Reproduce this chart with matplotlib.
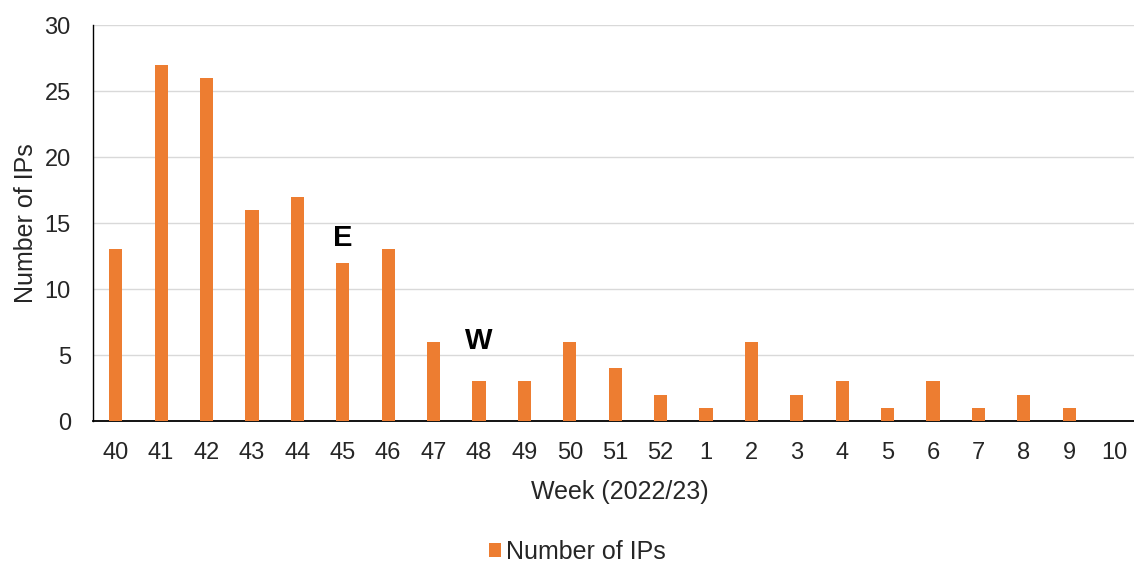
import matplotlib
matplotlib.use("Agg")
import matplotlib.pyplot as plt
import numpy as np

plt.rcParams['font.family'] = ['Liberation Sans', 'DejaVu Sans']

weeks = ["40", "41", "42", "43", "44", "45", "46", "47", "48", "49", "50", "51", "52",
         "1", "2", "3", "4", "5", "6", "7", "8", "9", "10"]
num_ips = [13, 27, 26, 16, 17, 12, 13, 6, 3, 3, 6, 4, 2, 1, 6, 2, 3, 1, 3, 1, 2, 1, 0]

# letter markers placed above particular weeks
markers = [("E", "45", 13.9), ("W", "48", 6.05)]

bar_color = "#ED7D31"
text_color = "#262626"

fig = plt.figure(figsize=(11.34, 5.64), dpi=100)
ax = fig.add_axes([0.082, 0.2535, 0.921, 0.702])

x = np.arange(len(weeks))
ax.bar(x, num_ips, width=0.29, color=bar_color, label="Number of IPs", zorder=3)

ax.set_xlim(-0.5, len(weeks) - 0.5)
ax.set_ylim(0, 30)
ax.set_yticks(range(0, 31, 5))
ax.set_xticks(x)
ax.set_xticklabels(weeks)
ax.tick_params(axis="both", length=0, labelsize=17, colors=text_color)
ax.tick_params(axis="x", pad=15)
ax.tick_params(axis="y", pad=16)

ax.grid(axis="y", color="#D9D9D9", linewidth=1, zorder=0)
for side in ["top", "right"]:
    ax.spines[side].set_visible(False)
ax.spines["left"].set_color("black")
ax.spines["bottom"].set_color("black")
ax.spines["bottom"].set_linewidth(1.3)
ax.spines["left"].set_linewidth(1.0)

ax.set_xlabel("Week (2022/23)", fontsize=18, color=text_color, va="center")
ax.xaxis.set_label_coords(0.504, -0.179)
ax.set_ylabel("Number of IPs", fontsize=18, color=text_color, va="center")
ax.yaxis.set_label_coords(-0.064, 0.499)

for letter, wk, yv in markers:
    ax.text(weeks.index(wk), yv, letter, ha="center", va="center",
            fontsize=21, fontweight="bold", color="black", zorder=4)

fig.legend(loc="center", bbox_to_anchor=(0.509, 0.021), frameon=False,
           fontsize=18, handlelength=0.5, handleheight=0.5, handletextpad=0.2,
           labelcolor=text_color)

fig.savefig("out.png", dpi=100)
